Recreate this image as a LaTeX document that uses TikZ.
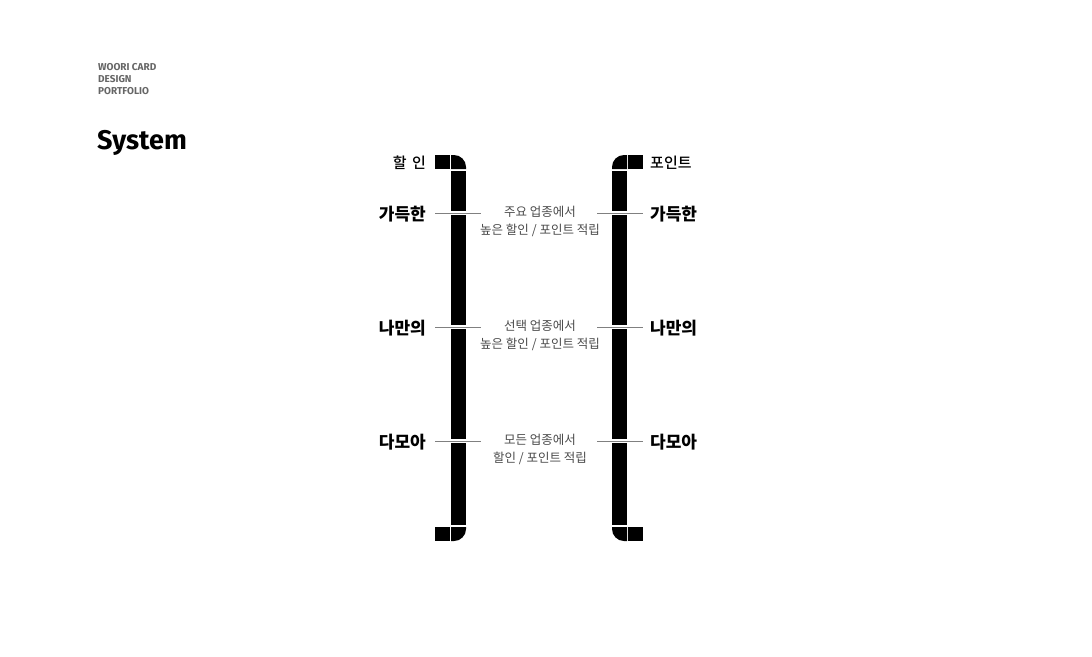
\documentclass[tikz,border=0pt]{standalone}
\usepackage{fontspec}
\setmainfont{Noto Sans CJK KR}
\newfontfamily\kr{Noto Sans CJK KR}
\newfontfamily\krm{Noto Sans CJK KR Medium}
\newfontfamily\hd{Fira Sans}
\definecolor{txtgray}{HTML}{4a4a4a}
\definecolor{hdgray}{HTML}{666666}
\definecolor{lngray}{HTML}{808080}
\begin{document}
\begin{tikzpicture}[x=1pt,y=1pt,
  lbl/.style={inner sep=0pt,font=\kr\bfseries\fontsize{17}{19}\selectfont},
  small/.style={inner sep=0pt,font=\krm\fontsize{15}{17}\selectfont},
  desc/.style={inner sep=0pt,align=center,text=txtgray,font=\kr\fontsize{12.5}{18}\selectfont},
  tick/.style={draw=lngray,line width=1pt,preaction={draw=white,line width=4pt}},
  piece/.style={fill=black}]
\useasboundingbox (0,0) rectangle (1092,-656);
% header
\node[anchor=north west,inner sep=0pt,align=left,text=hdgray,font=\hd\bfseries\fontsize{10}{12}\selectfont] (hdr) at (98,-63.5) {WOORI CARD\\DESIGN\\PORTFOLIO};
\node[anchor=west,inner sep=0pt,font=\hd\bfseries\fontsize{27}{30}\selectfont] (sys) at (97,-143) {System};
% left bar
\fill[piece] (435,-155) rectangle (450,-169);
\fill[piece] (451,-169) -- (451,-155) -- (454,-155) arc[start angle=90,end angle=0,radius=12] -- (466,-169) -- cycle;
\fill[piece] (451,-171) rectangle (466,-525);
\fill[piece] (435,-527) rectangle (450,-541);
\fill[piece] (451,-527) -- (466,-527) -- (466,-529) arc[start angle=0,end angle=-90,radius=12] -- (451,-541) -- cycle;
% right bar
\fill[piece] (628,-155) rectangle (643,-169);
\fill[piece] (627,-169) -- (627,-155) -- (624,-155) arc[start angle=90,end angle=180,radius=12] -- (612,-169) -- cycle;
\fill[piece] (612,-171) rectangle (627,-525);
\fill[piece] (628,-527) rectangle (643,-541);
\fill[piece] (612,-527) -- (627,-527) -- (627,-541) -- (624,-541) arc[start angle=270,end angle=180,radius=12] -- (612,-529) -- cycle;
% top labels
\node[small,anchor=east] (hal) at (426,-163) {할\hspace{0.35em}인};
\node[small,anchor=west] (pnt) at (650,-163) {포인트};
% rows
\foreach \y/\w/\a/\b [count=\i] in {213/가득한/{주요 업종에서}/{높은 할인 / 포인트 적립},
                          327/나만의/{선택 업종에서}/{높은 할인 / 포인트 적립},
                          441/다모아/{모든 업종에서}/{할인 / 포인트 적립}}{
  \coordinate (l\i a) at (435,-\y);
  \coordinate (l\i b) at (481,-\y);
  \coordinate (r\i a) at (597,-\y);
  \coordinate (r\i b) at (643,-\y);
  \draw[tick] (l\i a) -- (l\i b);
  \draw[tick] (r\i a) -- (r\i b);
  \node[lbl,anchor=east] (lw\i) at (426,-\y-1.5) {\w};
  \node[lbl,anchor=west] (rw\i) at (650,-\y-1.5) {\w};
  \node[desc] (d\i) at (540,-\y-8.5) {\a\\\b};
}
\end{tikzpicture}
\end{document}
